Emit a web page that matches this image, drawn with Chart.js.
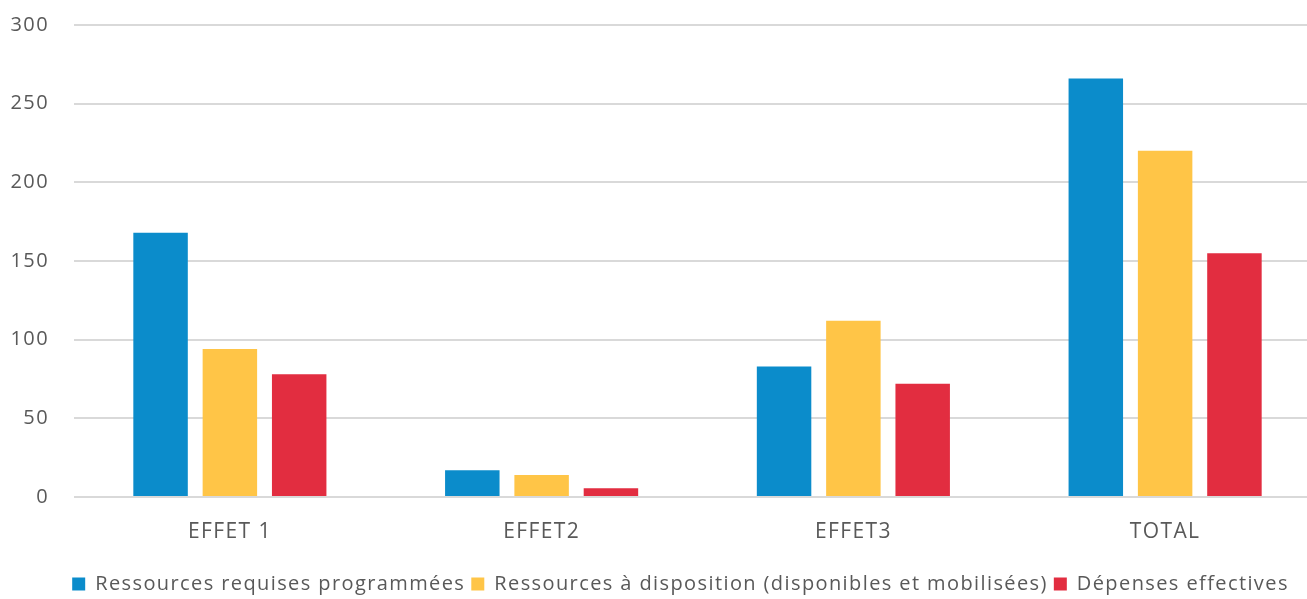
<!DOCTYPE html>
<html>
<head>
<meta charset="utf-8">
<script src="https://cdn.jsdelivr.net/npm/chart.js@4.4.1/dist/chart.umd.min.js"></script>
<style>
html,body{margin:0;padding:0;background:#fff;overflow:hidden;}
#wrap{width:1321px;height:599px;position:relative;}
</style>
</head>
<body>
<div id="wrap"><canvas id="c"></canvas></div>
<script>
const categories = ["EFFET 1", "EFFET2", "EFFET3", "TOTAL"];
const seriesNames = ["Ressources requises programmées", "Ressources à disposition (disponibles et mobilisées)", "Dépenses effectives"];
const requises = [168, 17, 83, 266];
const disposition = [94, 14, 112, 220];
const depenses = [78, 5.5, 72, 155];
const colors = ["#0B8CCB", "#FFC547", "#E22D40"];
const yTicks = [0, 50, 100, 150, 200, 250, 300];

const textColor = "#595959";
const fontFamily = "'Open Sans', sans-serif";
const LS = '1.4px';

const spacingPlugin = {
  id: 'letterSpacing',
  beforeInit(chart) { chart.ctx.letterSpacing = LS; },
  beforeUpdate(chart) { chart.ctx.letterSpacing = LS; },
  beforeLayout(chart) { chart.ctx.letterSpacing = LS; },
  afterLayout(chart) { if (chart.legend) { chart.legend.left += 40; } },
  beforeDraw(chart) { chart.ctx.letterSpacing = LS; }
};

new Chart(document.getElementById('c'), {
  type: 'bar',
  plugins: [spacingPlugin],
  data: {
    labels: categories,
    datasets: [requises, disposition, depenses].map((d, i) => ({
      label: seriesNames[i],
      data: d,
      backgroundColor: colors[i],
      borderWidth: 0,
      categoryPercentage: 0.667,
      barPercentage: 0.786
    }))
  },
  options: {
    responsive: true,
    maintainAspectRatio: false,
    animation: false,
    layout: { padding: { top: 25, left: 0, right: 0, bottom: -5 } },
    plugins: {
      tooltip: { enabled: false },
      legend: {
        position: 'bottom',
        align: 'center',
        labels: {
          boxWidth: 13,
          boxHeight: 13,
          padding: 6,
          color: textColor,
          font: { family: fontFamily, size: 20, lineHeight: 1.0 }
        }
      }
    },
    scales: {
      x: {
        grid: { display: false, drawTicks: false },
        border: { display: false },
        afterFit: (s) => { s.height = 71; },
        ticks: { color: textColor, font: { family: fontFamily, size: 21 }, padding: 22, maxRotation: 0 }
      },
      y: {
        min: 0, max: 300,
        afterBuildTicks: (s) => { s.ticks = yTicks.map(v => ({ value: v })); },
        afterFit: (s) => { s.width = 74; s.paddingTop = 0; s.paddingBottom = 0; },
        grid: { color: "#D9D9D9", lineWidth: 2, drawTicks: false },
        border: { display: false },
        ticks: { color: textColor, font: { family: fontFamily, size: 20 }, padding: 25 }
      }
    }
  }
});
</script>
</body>
</html>
